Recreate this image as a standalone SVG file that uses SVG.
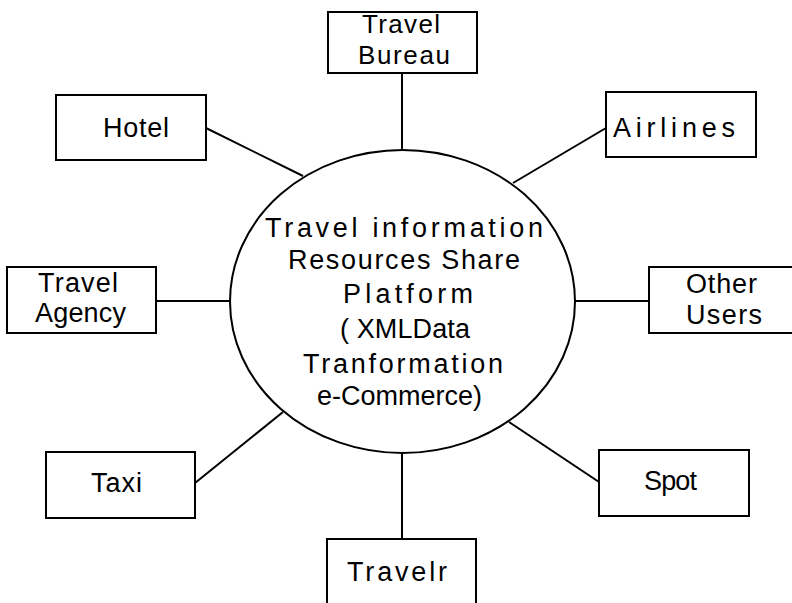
<svg xmlns="http://www.w3.org/2000/svg" width="792" height="603" viewBox="0 0 792 603">
<style>
.box{fill:#fff;stroke:#000;stroke-width:2}
.ln{stroke:#000;stroke-width:2;fill:none}
text{font-family:"Liberation Sans",Arial,sans-serif;font-size:27px;fill:#000}
.sm{font-size:26px}
</style>
<rect width="792" height="603" fill="#fff"/>
<g id="connectors">
<line class="ln" x1="402" y1="73" x2="402" y2="150"/>
<line class="ln" x1="206" y1="128" x2="303" y2="176"/>
<line class="ln" x1="606" y1="128" x2="513" y2="183"/>
<line class="ln" x1="156" y1="301" x2="230" y2="301"/>
<line class="ln" x1="575" y1="301" x2="649" y2="301"/>
<line class="ln" x1="195" y1="483" x2="283" y2="412"/>
<line class="ln" x1="599" y1="482" x2="509" y2="422"/>
<line class="ln" x1="402" y1="453" x2="402" y2="539"/>
</g>
<g id="platform">
<ellipse class="ln" cx="402.5" cy="301.5" rx="172.5" ry="151.5"/>
<text x="265" y="237" textLength="278" lengthAdjust="spacing">Travel information</text>
<text x="288" y="269" textLength="232" lengthAdjust="spacing">Resources Share</text>
<text x="343" y="303" textLength="130" lengthAdjust="spacing">Platform</text>
<text x="340" y="338" textLength="130" lengthAdjust="spacing">( XMLData</text>
<text x="303" y="373" textLength="200" lengthAdjust="spacing">Tranformation</text>
<text x="317" y="405" textLength="165" lengthAdjust="spacing">e-Commerce)</text>
</g>
<g id="travel-bureau">
<rect class="box" x="328" y="12" width="149" height="61"/>
<text class="sm" x="362" y="33" textLength="78" lengthAdjust="spacing">Travel</text>
<text class="sm" x="358" y="64" textLength="92" lengthAdjust="spacing">Bureau</text>
</g>
<g id="airlines">
<rect class="box" x="606" y="92" width="150" height="65"/>
<text x="613" y="137" textLength="122" lengthAdjust="spacing">Airlines</text>
</g>
<g id="hotel">
<rect class="box" x="56" y="95" width="150" height="65"/>
<text x="103" y="137" textLength="66" lengthAdjust="spacing">Hotel</text>
</g>
<g id="travel-agency">
<rect class="box" x="7" y="267" width="149" height="66"/>
<text x="38" y="292" textLength="80" lengthAdjust="spacing">Travel</text>
<text x="35" y="322" textLength="91" lengthAdjust="spacing">Agency</text>
</g>
<g id="other-users">
<rect class="box" x="649" y="267" width="150" height="66"/>
<text x="686" y="293" textLength="71" lengthAdjust="spacing">Other</text>
<text x="686" y="324" textLength="76" lengthAdjust="spacing">Users</text>
</g>
<g id="taxi">
<rect class="box" x="46" y="452" width="149" height="66"/>
<text x="91" y="492" textLength="51" lengthAdjust="spacing">Taxi</text>
</g>
<g id="spot">
<rect class="box" x="599" y="450" width="150" height="66"/>
<text x="644" y="490" textLength="53" lengthAdjust="spacing">Spot</text>
</g>
<g id="travelr">
<rect class="box" x="327" y="539" width="149" height="70"/>
<text x="347" y="581" textLength="100" lengthAdjust="spacing">Travelr</text>
</g>
</svg>
